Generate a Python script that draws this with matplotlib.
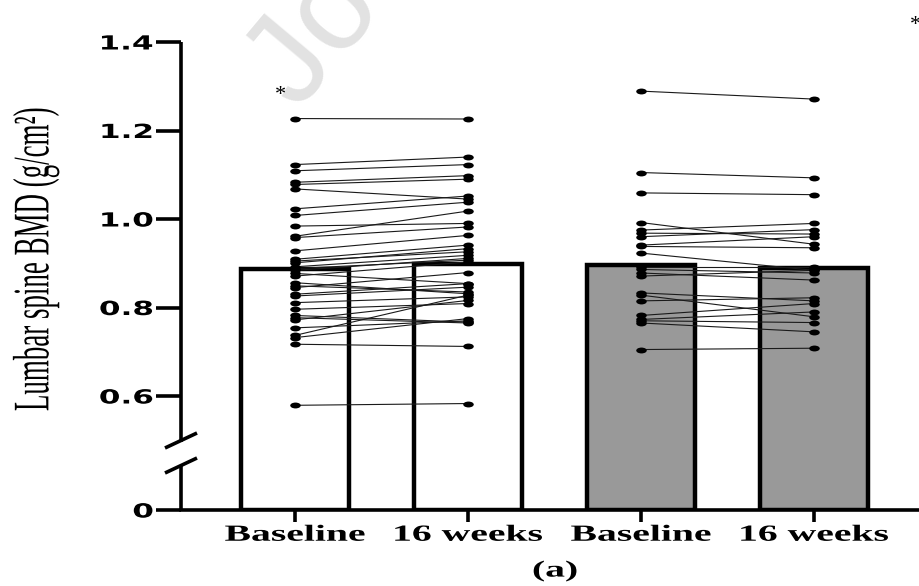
import numpy as np
import matplotlib
matplotlib.use("Agg")
import matplotlib.pyplot as plt
from matplotlib.patheffects import AbstractPathEffect
from matplotlib.transforms import Affine2D
from matplotlib.path import Path
from matplotlib.ticker import NullLocator

# Lumbar spine BMD (g/cm^2), one entry per participant, same order in both lists
base_a = [1.227, 1.123, 1.109, 1.083, 1.078, 1.068, 1.023, 1.008, 0.984, 0.961,
          0.958, 0.928, 0.909, 0.905, 0.901, 0.892, 0.888, 0.884, 0.877, 0.871,
          0.856, 0.849, 0.845, 0.830, 0.826, 0.811, 0.796, 0.782, 0.777, 0.772,
          0.754, 0.737, 0.732, 0.717, 0.579]
wk16_a = [1.226, 1.140, 1.123, 1.098, 1.090, 1.045, 1.052, 1.038, 0.990, 1.018,
          0.982, 0.963, 0.941, 0.926, 0.933, 0.918, 0.907, 0.911, 0.854, 0.903,
          0.831, 0.835, 0.879, 0.854, 0.846, 0.824, 0.809, 0.767, 0.765, 0.816,
          0.770, 0.828, 0.775, 0.712, 0.583]

base_b = [1.289, 1.105, 1.059, 0.992, 0.975, 0.968, 0.960, 0.941, 0.938, 0.923,
          0.892, 0.886, 0.878, 0.871, 0.833, 0.828, 0.815, 0.782, 0.773, 0.770,
          0.765, 0.705]
wk16_b = [1.271, 1.093, 1.055, 0.943, 0.990, 0.966, 0.976, 0.960, 0.935, 0.884,
          0.892, 0.878, 0.862, 0.884, 0.815, 0.779, 0.822, 0.809, 0.790, 0.766,
          0.745, 0.708]

bar_labels = ["Baseline", "16 weeks", "Baseline", "16 weeks"]
bar_means = [0.886, 0.899, 0.896, 0.889]
bar_colors = ["white", "white", "#999999", "#999999"]
ytick_vals = [0, 0.6, 0.8, 1.0, 1.2, 1.4]
ytick_text = ["0", "0.6", "0.8", "1.0", "1.2", "1.4"]


class Stretch(AbstractPathEffect):
    """Draw text widened along x, about its left/right edge or its centre."""
    def __init__(self, sx=1.7, anchor="center"):
        super().__init__()
        self.sx = sx
        self.anchor = anchor

    def draw_path(self, renderer, gc, tpath, affine, rgbFace=None):
        box = tpath.get_extents(affine)
        if self.anchor == "left":
            x0 = box.x0
        elif self.anchor == "right":
            x0 = box.x1
        else:
            x0 = 0.5 * (box.x0 + box.x1)
        wide = affine + Affine2D().translate(-x0, 0).scale(self.sx, 1).translate(x0, 0)
        renderer.draw_path(gc, tpath, wide, rgbFace)


# broken axis: values under 0.5 get squeezed into a short stub above 0
LO, CUT, SQ = 0.3424, 0.5, 0.3152

def fwd(y):
    y = np.asarray(y, float)
    return np.where(y >= CUT, y, LO + y * SQ)

def inv(t):
    t = np.asarray(t, float)
    return np.where(t >= CUT, t, (t - LO) / SQ)


W, H = 920, 586
LW = 2.6
fig = plt.figure(figsize=(9.2, 5.86), dpi=100)
ax = fig.add_axes([181 / W, 1 - 510 / H, 739 / W, 468 / H])
ax.set_yscale("function", functions=(fwd, inv))
ax.set_ylim(0, 1.4)
ax.set_xlim(-0.659, 3.613)

xs = np.arange(len(bar_labels))
ax.bar(xs, bar_means, width=0.62, color=bar_colors, edgecolor="black",
       linewidth=3.2, zorder=1)

# flattened ellipse for the subject dots
circ = Path.unit_circle()
dot = Path(circ.vertices * [1.8, 1.0], circ.codes)

for x0, x1, before, after in [(0, 1, base_a, wk16_a), (2, 3, base_b, wk16_b)]:
    for y0, y1 in zip(before, after):
        ax.plot([x0, x1], [y0, y1], color="#1a1a1a", lw=0.8, zorder=3)
    ax.plot(np.full(len(before), x0), before, ls="none", marker=dot, ms=7.6,
            color="black", mew=0, zorder=4)
    ax.plot(np.full(len(after), x1), after, ls="none", marker=dot, ms=7.6,
            color="black", mew=0, zorder=4)

for side in ["top", "right", "left"]:
    ax.spines[side].set_visible(False)
ax.spines["bottom"].set_linewidth(LW)

# left axis drawn in two pieces with the break marks between them
seg = dict(color="black", lw=LW, transform=ax.transAxes, clip_on=False,
           solid_capstyle="butt")
ax.plot([0, 0], [0, 45 / 468], **seg)
ax.plot([0, 0], [68 / 468, 1], **seg)
ax.plot([-16 / 739, 16 / 739], [62 / 468, 77 / 468], **seg)
ax.plot([-16 / 739, 16 / 739], [37 / 468, 52 / 468], **seg)

ax.set_yticks(ytick_vals, ytick_text, fontfamily="DejaVu Sans",
              fontweight="bold", fontsize=14)
ax.yaxis.set_minor_locator(NullLocator())
ax.set_xticks(xs, bar_labels, fontfamily="Liberation Serif",
              fontweight="bold", fontsize=16.6)
ax.tick_params(axis="y", length=18, width=LW, pad=2)
ax.tick_params(axis="x", length=8.6, width=LW, pad=2)
plt.setp(ax.get_yticklabels(), path_effects=[Stretch(1.6, "right")])
plt.setp(ax.get_xticklabels(), path_effects=[Stretch(1.72, "center")])

fig.text(36 / W, 1 - 260 / H, "Lumbar spine BMD (g/cm²)", rotation=90,
         ha="center", va="center", family="Liberation Serif", fontsize=19.4,
         path_effects=[Stretch(1.9)])
fig.text(555 / W, 1 - 571 / H, "(a)", ha="center", va="center",
         family="Liberation Serif", fontweight="bold", fontsize=16.6,
         path_effects=[Stretch(1.72)])
fig.text(280 / W, 1 - 100 / H, "*", ha="center", va="baseline",
         family="Liberation Serif", fontsize=16, zorder=5)
fig.text(915 / W, 1 - 30 / H, "*", ha="center", va="baseline",
         family="Liberation Serif", fontsize=16, zorder=5)

# pale diagonal watermark running off the top edge
fig.text(298 / W, 1 - 112 / H, "Journal Pre-proof", rotation=50,
         rotation_mode="anchor", ha="left", va="baseline",
         family="Liberation Sans", fontsize=92, color="#e2e2e2", zorder=0.5)

fig.savefig("out.png", dpi=100, facecolor="white")
